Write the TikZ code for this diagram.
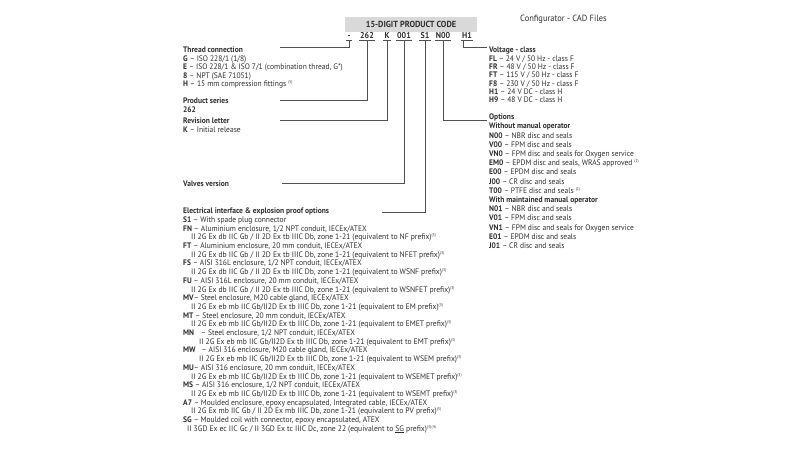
\documentclass[tikz,border=0pt]{standalone}
\usepackage{fontspec}
\setmainfont{PT Sans}[FakeStretch=0.94]
\newfontfamily\exfont{PT Sans}[FakeStretch=0.955]
\usetikzlibrary{positioning}
\definecolor{codegray}{HTML}{D9D9D9}
\definecolor{inkgray}{HTML}{2E2E2E}
\definecolor{linegray}{HTML}{505050}
\newcommand{\fnote}[1]{\textsuperscript{\fontsize{4}{4}\selectfont(#1)}}
\newcommand{\cd}[1]{\textbf{#1}}
\newcommand{\exline}[2][8pt]{\hspace{#1}{\exfont #2}}

\begin{document}
\begin{tikzpicture}[x=1pt, y=-1pt, text=inkgray,
  block/.style={anchor=base west, inner sep=0pt},
  leadline/.style={draw=linegray, line width=0.6pt},
  codeseg/.style={anchor=base, inner xsep=1pt, inner ysep=2pt,
    font=\fontsize{8.5}{9}\selectfont\bfseries,
    append after command={(\tikzlastnode.south west) edge[leadline] (\tikzlastnode.south east)}}]
\useasboundingbox (0,0) rectangle (800,450);

% header and code
\node[fill=codegray, minimum width=132, minimum height=15, inner sep=0pt,
  font=\fontsize{8.8}{9}\selectfont\bfseries] (header) at (411,24) {15-DIGIT PRODUCT CODE};
\node[anchor=west, inner sep=0pt, font=\fontsize{9}{9}\selectfont] (config) at (520,19) {Configurator - CAD Files};

\node[codeseg] (cdash) at (349,38) {-};
\node[codeseg] (c262) at (367,38) {262};
\node[codeseg] (cK) at (387,38) {K};
\node[codeseg] (c001) at (404,38) {001};
\node[codeseg] (cS1) at (425,38) {S1};
\node[codeseg] (cN00) at (443,38) {N00};
\node[codeseg] (cH1) at (467,38) {H1};

% left column
\node[block, font=\fontsize{8}{8.5}\selectfont] (thread) at (183,52.7) {\begin{tabular}[t]{@{}l@{}}
\textbf{Thread connection}\\
\cd{G} -- ISO 228/1 (1/8)\\
\cd{E} -- ISO 228/1 \& ISO 7/1 (combination thread, G*)\\
\cd{8} -- NPT (SAE 71051)\\
\cd{H} -- 15 mm compression fittings \fnote{5}
\end{tabular}};
\node[block, font=\fontsize{8}{9}\selectfont] (series) at (183,103.5) {\begin{tabular}[t]{@{}l@{}}
\textbf{Product series}\\
\cd{262}
\end{tabular}};
\node[block, font=\fontsize{8}{8.7}\selectfont] (revision) at (183,123.5) {\begin{tabular}[t]{@{}l@{}}
\textbf{Revision letter}\\
\cd{K} -- Initial release
\end{tabular}};
\node[block, font=\fontsize{8}{8.7}\selectfont] (version) at (183,186.7) {\textbf{Valves version}};
\node[block, font=\fontsize{8}{8.7}\selectfont] (elec) at (183,213.7) {\begin{tabular}[t]{@{}l@{}}
\textbf{Electrical interface \& explosion proof options}\\
\cd{S1} -- With spade plug connector\\
\cd{FN} -- Aluminium enclosure, 1/2 NPT conduit, IECEx/ATEX\\
\exline{II 2G Ex db IIC Gb / II 2D Ex tb IIIC Db, zone 1-21 (equivalent to NF prefix)\fnote{3}}\\
\cd{FT} -- Aluminium enclosure, 20 mm conduit, IECEx/ATEX\\
\exline{II 2G Ex db IIC Gb / II 2D Ex tb IIIC Db, zone 1-21 (equivalent to NFET prefix)\fnote{3}}\\
\cd{FS} -- AISI 316L enclosure, 1/2 NPT conduit, IECEx/ATEX\\
\exline{II 2G Ex db IIC Gb / II 2D Ex tb IIIC Db, zone 1-21 (equivalent to WSNF prefix)\fnote{3}}\\
\cd{FU} -- AISI 316L enclosure, 20 mm conduit, IECEx/ATEX\\
\exline{II 2G Ex db IIC Gb / II 2D Ex tb IIIC Db, zone 1-21 (equivalent to WSNFET prefix)\fnote{3}}\\
\cd{MV}-- Steel enclosure, M20 cable gland, IECEx/ATEX\\
\exline{II 2G Ex eb mb IIC Gb/II2D Ex tb IIIC Db, zone 1-21 (equivalent to EM prefix)\fnote{3}}\\
\cd{MT} -- Steel enclosure, 20 mm conduit, IECEx/ATEX\\
\exline{II 2G Ex eb mb IIC Gb/II2D Ex tb IIIC Db, zone 1-21 (equivalent to EMET prefix)\fnote{3}}\\
\cd{MN}\hspace{5pt} -- Steel enclosure, 1/2 NPT conduit, IECEx/ATEX\\
\exline[16pt]{II 2G Ex eb mb IIC Gb/II2D Ex tb IIIC Db, zone 1-21 (equivalent to EMT prefix)\fnote{3}}\\
\cd{MW}\hspace{4pt} -- AISI 316 enclosure, M20 cable gland, IECEx/ATEX\\
\exline[16pt]{II 2G Ex eb mb IIC Gb/II2D Ex tb IIIC Db, zone 1-21 (equivalent to WSEM prefix)\fnote{3}}\\
\cd{MU}-- AISI 316 enclosure, 20 mm conduit, IECEx/ATEX\\
\exline{II 2G Ex eb mb IIC Gb/II2D Ex tb IIIC Db, zone 1-21 (equivalent to WSEMET prefix)\fnote{3}}\\
\cd{MS} -- AISI 316 enclosure, 1/2 NPT conduit, IECEx/ATEX\\
\exline{II 2G Ex eb mb IIC Gb/II2D Ex tb IIIC Db, zone 1-21 (equivalent to WSEMT prefix)\fnote{3}}\\
\cd{A7} -- Moulded enclosure, epoxy encapsulated, Integrated cable, IECEx/ATEX\\
\exline{II 2G Ex mb IIC Gb / II 2D Ex mb IIIC Db, zone 1-21 (equivalent to PV prefix)\fnote{3}}\\
\cd{SG} -- Moulded coil with connector, epoxy encapsulated, ATEX\\
\exline[4pt]{II 3GD Ex ec IIC Gc / II 3GD Ex tc IIIC Dc, zone 22 (equivalent to \underline{SG} prefix)\fnote{3}\fnote{4}}
\end{tabular}};

% right column
\node[block, font=\fontsize{8}{8.35}\selectfont] (voltage) at (489,52.7) {\begin{tabular}[t]{@{}l@{}}
\textbf{Voltage - class}\\
\cd{FL} -- 24 V / 50 Hz - class F\\
\cd{FR} -- 48 V / 50 Hz - class F\\
\cd{FT} -- 115 V / 50 Hz - class F\\
\cd{F8} -- 230 V / 50 Hz - class F\\
\cd{H1} -- 24 V DC - class H\\
\cd{H9} -- 48 V DC - class H
\end{tabular}};
\node[block, font=\fontsize{8}{9.2}\selectfont] (options) at (489,119.7) {\begin{tabular}[t]{@{}l@{}}
\textbf{Options}\\
\textbf{Without manual operator}\\
\cd{N00} -- NBR disc and seals\\
\cd{V00} -- FPM disc and seals\\
\cd{VN0} -- FPM disc and seals for Oxygen service\\
\cd{EM0} -- EPDM disc and seals, WRAS approved \fnote{2}\\
\cd{E00} -- EPDM disc and seals\\
\cd{J00} -- CR disc and seals\\
\cd{T00} -- PTFE disc and seals \fnote{1}\\
\textbf{With maintained manual operator}\\
\cd{N01} -- NBR disc and seals\\
\cd{V01} -- FPM disc and seals\\
\cd{VN1} -- FPM disc and seals for Oxygen service\\
\cd{E01} -- EPDM disc and seals\\
\cd{J01} -- CR disc and seals
\end{tabular}};

% leaders
\coordinate (threadend) at (280,47);
\coordinate (seriesend) at (280,100);
\coordinate (revend) at (280,120);
\coordinate (versionend) at (282,183);
\coordinate (elecend) at (382,212);
\coordinate (optend) at (487,120);
\coordinate (voltend) at (487,47);
\draw[leadline] (cdash.south) |- (threadend);
\draw[leadline] (c262.south) |- (seriesend);
\draw[leadline] (cK.south) |- (revend);
\draw[leadline] (c001.south) |- (versionend);
\draw[leadline] (cS1.south) |- (elecend);
\draw[leadline] (cN00.south) |- (optend);
\draw[leadline] ([xshift=-4pt]cH1.south) |- (voltend);
\end{tikzpicture}
\end{document}
